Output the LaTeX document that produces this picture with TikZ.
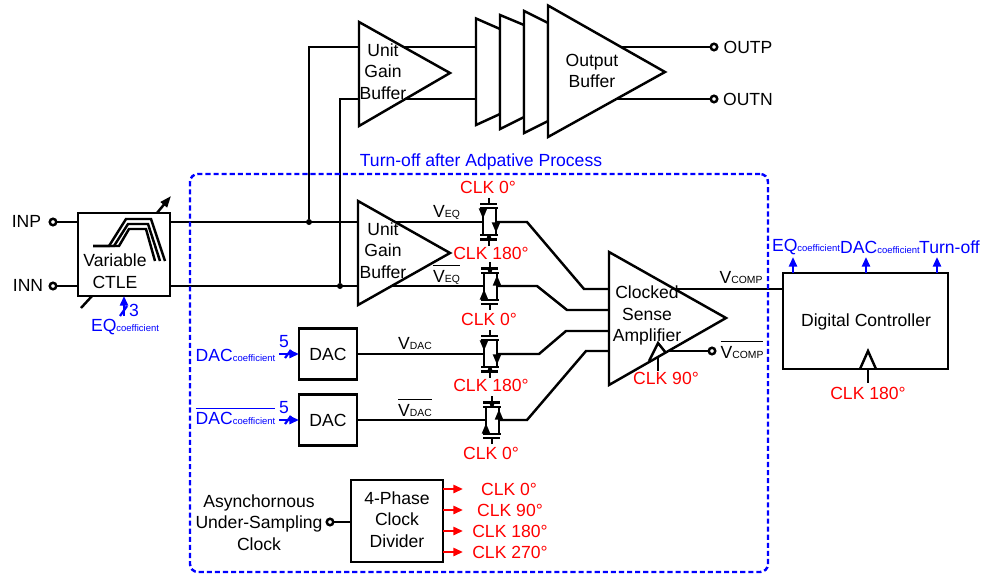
\documentclass[tikz,border=0pt]{standalone}
\usepackage{fontspec}
\setmainfont{Liberation Sans}
\usetikzlibrary{arrows.meta}
\newlength{\pxu}
\setlength{\pxu}{0.02cm}
\newcommand{\subtxt}[1]{{\fontsize{5.9}{6}\selectfont #1}}
\newcommand{\cof}{{\fontsize{5.4}{6}\selectfont coefficient}}
\newcommand{\barred}[1]{$\overline{\mbox{\rule{0pt}{8.2pt}#1}}$}
\tikzset{
  wire/.style={line width=1.4pt, draw=black, line join=miter},
  blockbox/.style={draw=black, fill=white, line width=1.4pt, inner sep=0pt, outer sep=0pt},
  ampshape/.style={draw=black, fill=white, line width=1.4pt, line join=miter},
  blocklabel/.style={font=\fontsize{10}{12.3}\selectfont, align=center, inner sep=0pt},
  redlabel/.style={blocklabel, text=red},
  bluelabel/.style={blocklabel, text=blue},
  term/.style={circle, draw=black, fill=white, line width=1.4pt, inner sep=0pt, minimum size=6.5\pxu},
  junction/.style={circle, fill=black, inner sep=0pt, minimum size=6\pxu},
  bluewire/.style={draw=blue, line width=1.3pt},
  bluearrow/.style={bluewire, -{Triangle[length=5.5pt,width=4.6pt]}},
  redarrow/.style={draw=red, line width=1.3pt, -{Triangle[length=5.5pt,width=4.6pt]}},
  swarrow/.style={wire, -{Triangle[length=6pt,width=4.4pt]}},
  regionbox/.style={draw=blue, line width=1.4pt, dash pattern=on 2.9pt off 1.7pt, rounded corners=4.5pt, inner sep=0pt},
  switchcell/.pic={
    \coordinate (-l) at (-6,0);
    \coordinate (-r) at (7,0);
    \draw[wire] (-9,-14) -- (9,-14);
    \draw[wire] (-9,13) -- (9,13);
    \draw[wire] (-6,-14) -- (-6,13);
    \draw[wire] (7,-14) -- (7,13);
    \draw[wire] (-9,-18) -- (8,-18);
    \draw[wire] (0,-24) -- (0,-18);
    \draw[wire] (-9,17.5) -- (8,17.5);
    \draw[wire] (0,17.5) -- (0,24);
    \fill (0,15.5) circle (2.2);
    \draw[swarrow] (-6,-14) -- (-6,-3);
    \draw[swarrow] (7,0) -- (7,11);
  },
}

\begin{document}
\begin{tikzpicture}[x=0.02cm, y=-0.02cm]
\useasboundingbox (0,0) rectangle (990,574);
% terminals and blocks
\node[term] (inp) at (53,222) {};
\node[term] (inn) at (53,286) {};
\node[term] (outp) at (714,47) {};
\node[term] (outn) at (714,99) {};
\node[term] (vcompb) at (712,351) {};
\node[term] (asyncin) at (330,522) {};
\node[junction] (njp) at (309,222) {};
\node[junction] (njn) at (340,286) {};
\node[blockbox, minimum width=92\pxu, minimum height=83\pxu] (ctle) at (124,254.5) {};
\node[blockbox, minimum width=58\pxu, minimum height=51\pxu] (dacp) at (328,354) {};
\node[blockbox, minimum width=58\pxu, minimum height=51\pxu] (dacn) at (328,420) {};
\node[blockbox, minimum width=92\pxu, minimum height=82\pxu] (divider) at (397,521) {};
\node[blockbox, minimum width=165\pxu, minimum height=96\pxu] (digital) at (865.5,321) {};
\coordinate (ampout) at (610,289);
\coordinate (ampoutb) at (610,351);
\coordinate (vcompin) at (digital.west |- ampout);
% switches
\pic (swa) at (489,222) {switchcell};
\pic[yscale=-1] (swb) at (490,286) {switchcell};
\pic (swc) at (490,354) {switchcell};
\pic[yscale=-1] (swd) at (492,420) {switchcell};
% wires
\draw[wire] (inp) -- (ctle.west |- inp);
\draw[wire] (inn) -- (ctle.west |- inn);
\draw[wire] (ctle.east |- inp) -- (swa-l);
\draw[wire] (ctle.east |- inn) -- (swb-l);
\draw[wire] (njp) |- (outp);
\draw[wire] (njn) |- (outn);
\draw[wire] (swa-r) -- (527,222) -- (584,289) -- (610,289);
\draw[wire] (swb-r) -- (537,286) -- (567,310) -- (610,310);
\draw[wire] (swc-r) -- (539,354) -- (566,331) -- (610,331);
\draw[wire] (swd-r) -- (527,420) -- (586,351) -- (610,351);
\draw[wire] (dacp) -- (swc-l);
\draw[wire] (dacn) -- (swd-l);
\draw[wire] (ampout) -- (vcompin);
\draw[wire] (ampoutb) -- (vcompb);
\draw[wire] (asyncin) -- (divider.west |- asyncin);
% variable arrow through the CTLE
\draw[wire, -{Triangle[length=6.5pt,width=4.6pt]}] (157,213) -- (171,196);
\draw[wire] (92,296) -- (81,308);
% amplifiers
\draw[ampshape] (359,22) -- (450,73) -- (359,126) -- cycle;
\draw[ampshape] (358,201) -- (450,253) -- (358,305) -- cycle;
\draw[ampshape] (476,18.5) -- (500,29) -- (500,114) -- (476,125) -- cycle;
\draw[ampshape] (500,15) -- (524,25) -- (524,117) -- (500,129) -- cycle;
\draw[ampshape] (524,11) -- (548,23) -- (548,121) -- (524,133) -- cycle;
\draw[ampshape] (548,5.5) -- (665,72) -- (548,137) -- cycle;
\draw[ampshape] (609,252) -- (726,318) -- (609,385) -- cycle;
% clock inputs
\draw[wire] (649,361) -- (658,343) -- (666,353);
\draw[wire] (658,358) -- (658,371);
\draw[wire] (860,369) -- (868,351) -- (876,369);
\draw[wire] (868,369) -- (868,383);
% filter curve
\draw[wire] (93,246) -- (109,246) -- (126,219) -- (151,219) -- (165,261);
\draw[wire] (93,246) -- (114,246) -- (128,224) -- (148,224) -- (160,261);
\draw[wire] (93,246) -- (119,246) -- (129,229) -- (146,229) -- (155,261);
% black labels
\node[blocklabel] (inplabel) at (26.5,221) {INP};
\node[blocklabel] (innlabel) at (28,285) {INN};
\node[blocklabel] (outplabel) at (748,47) {OUTP};
\node[blocklabel] (outnlabel) at (748,99) {OUTN};
\node[blocklabel] (ctlelabel) at (115,271.5) {Variable\\CTLE};
\node[blocklabel] (ugbtop) at (383,71.5) {Unit\\Gain\\Buffer};
\node[blocklabel] (ugbbot) at (383,250.5) {Unit\\Gain\\Buffer};
\node[blocklabel] (outbuf) at (592,71) {Output\\Buffer};
\node[blocklabel] (amplabel) at (647,315.5) {Clocked\\Sense\\Amplifier};
\node[blocklabel] (daclabelp) at (dacp) {DAC};
\node[blocklabel] (daclabeln) at (dacn) {DAC};
\node[blocklabel] (divlabel) at (397,519.5) {4-Phase\\Clock\\Divider};
\node[blocklabel] (digilabel) at (866,321.5) {Digital Controller};
\node[blocklabel] (asynclabel) at (259,522.5) {Asynchornous\\Under-Sampling\\Clock};
\node[blocklabel] (veq) at (446.5,212) {V\subtxt{EQ}};
\node[blocklabel, anchor=south] (veqb) at (446.5,284.5) {\barred{V\subtxt{EQ}}};
\node[blocklabel] (vdac) at (415,344) {V\subtxt{DAC}};
\node[blocklabel, anchor=south] (vdacb) at (415,416.5) {\barred{V\subtxt{DAC}}};
\node[blocklabel] (vcomp) at (741,278) {V\subtxt{COMP}};
\node[blocklabel, anchor=south] (vcompbl) at (742,358.5) {\barred{V\subtxt{COMP}}};
% red labels
\node[redlabel] (clka) at (488,187) {CLK 0°};
\node[redlabel] (clkb) at (491,253) {CLK 180°};
\node[redlabel] (clkc) at (489,319) {CLK 0°};
\node[redlabel] (clkd) at (491,385) {CLK 180°};
\node[redlabel] (clke) at (491,453) {CLK 0°};
\node[redlabel] (clkamp) at (666,378) {CLK 90°};
\node[redlabel] (clkdig) at (868,393) {CLK 180°};
\node[redlabel] (phasea) at (509,489) {CLK 0°};
\node[redlabel] (phaseb) at (510,510) {CLK 90°};
\node[redlabel] (phasec) at (510,531) {CLK 180°};
\node[redlabel] (phased) at (510,552) {CLK 270°};
\coordinate (pha) at (463,489);
\coordinate (phb) at (463,510);
\coordinate (phc) at (463,531);
\coordinate (phd) at (463,552);
\draw[redarrow] (divider.east |- pha) -- (pha);
\draw[redarrow] (divider.east |- phb) -- (phb);
\draw[redarrow] (divider.east |- phc) -- (phc);
\draw[redarrow] (divider.east |- phd) -- (phd);
% blue labels and buses
\node[bluelabel] (eqin) at (125,327) {EQ\cof};
\node[bluelabel] (eqbits) at (134,310) {3};
\node[bluelabel] (dacin) at (235.5,355) {DAC\cof};
\node[bluelabel, anchor=south] (dacinb) at (235.5,425.5) {\barred{DAC\cof}};
\node[bluelabel] (dacbitsp) at (284,342) {5};
\node[bluelabel] (dacbitsn) at (284,408) {5};
\node[bluelabel] (eqout) at (806,247) {EQ\cof};
\node[bluelabel] (dacout) at (880,247) {DAC\cof};
\node[bluelabel] (turnout) at (949.5,247) {Turn-off};
\node[bluelabel] (regionlabel) at (481,162) {Turn-off after Adpative Process};
\coordinate (eqfrom) at (124,316);
\coordinate (dacfromp) at (279,354);
\coordinate (dacfromn) at (279,420);
\coordinate (eqtip) at (793,257);
\coordinate (dactip) at (866,257);
\coordinate (turntip) at (937,257);
\draw[bluearrow] (eqfrom) -- (ctle.south -| eqfrom);
\draw[bluewire] (120,316) -- (127,306);
\draw[bluearrow] (dacfromp) -- (dacp.west |- dacfromp);
\draw[bluewire] (285,358) -- (291,350);
\draw[bluearrow] (dacfromn) -- (dacn.west |- dacfromn);
\draw[bluewire] (285,424) -- (291,416);
\draw[bluearrow] (digital.north -| eqtip) -- (eqtip);
\draw[bluearrow] (digital.north -| dactip) -- (dactip);
\draw[bluearrow] (digital.north -| turntip) -- (turntip);
\node[regionbox, minimum width=578\pxu, minimum height=398\pxu] (region) at (479,373) {};
\end{tikzpicture}
\end{document}
